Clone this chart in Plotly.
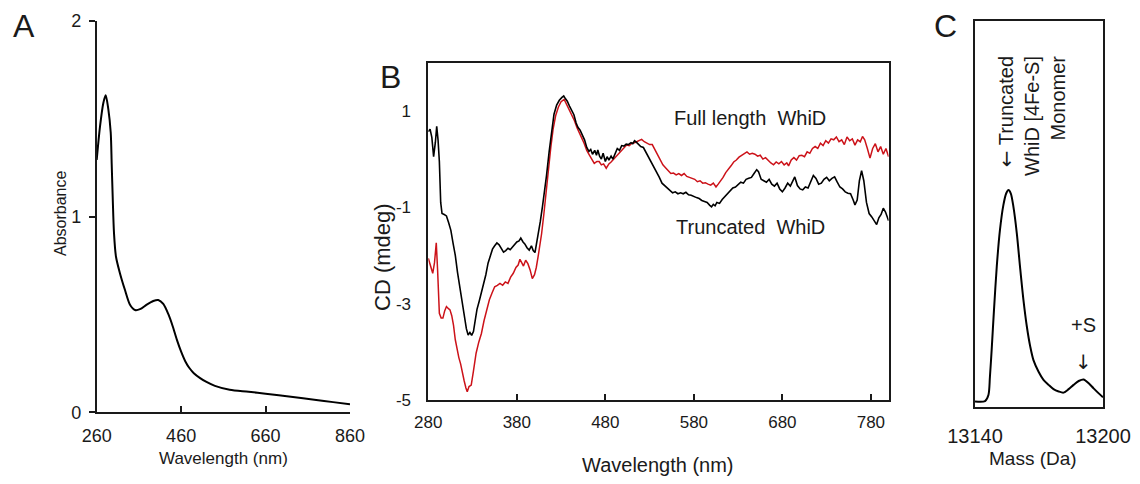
import plotly.graph_objects as go

# ---------------- Panel A : UV-vis absorbance ----------------
a_wavelength = [260, 267.8, 275.6, 281.3, 287.5, 293.2, 295.5, 297.9, 301, 305.7, 315.2, 327,
                338.9, 350.7, 362.6, 378.4, 394, 405.9, 417.7, 430, 440, 450, 460, 470, 480,
                490, 505, 520, 540, 575, 620, 660, 720, 780, 820, 860]
a_absorbance = [1.29, 1.46, 1.58, 1.62, 1.55, 1.43, 1.27, 1.10, 0.915, 0.795, 0.71, 0.625,
                0.55, 0.523, 0.527, 0.55, 0.569, 0.574, 0.554, 0.50, 0.44, 0.37, 0.31, 0.26, 0.225,
                0.20, 0.175, 0.155, 0.135, 0.115, 0.105, 0.095, 0.08, 0.063, 0.052, 0.041]
a_xticks = [260, 460, 660, 860]
a_yticks = [0, 1, 2]

# ---------------- Panel B : CD spectra ----------------
trunc_wl = [280, 282, 284, 286, 288, 289.5, 291, 292.5, 294, 295.5, 298, 300.5, 303, 305.5, 308,
            310.5, 313, 315.5, 318, 320.5, 323, 325, 327, 329, 331, 333, 335, 337.5, 340, 342.5,
            345, 347.5, 350, 352.5, 355, 357.5, 360, 362.5, 365, 367.5, 370, 372.5, 375, 377.5,
            380, 382.5, 384.5, 387, 389, 391.5, 394, 396.5, 398.5, 400.5, 402, 404, 406.5, 409,
            411, 413.5, 416.5, 419, 422, 425, 428, 431, 433, 435, 437, 439.5, 442, 444.5, 447,
            449, 451.5, 454, 456.5, 459, 461.5, 463.5, 465.5, 468, 470, 471.5, 473.5, 475.5,
            477.5, 480, 482, 484, 486.5, 488.5, 491, 493.5, 496, 498.5, 501, 503.5, 506, 509,
            511, 513, 515, 517.5, 520, 523, 526, 529, 532, 535, 538, 541, 544, 547, 550, 553,
            556, 559, 562, 565, 568, 571, 574, 577, 580, 583, 586, 589, 592, 595, 598, 600,
            602, 604, 606, 609, 612, 615, 618, 621, 624, 627, 630, 633, 636, 639, 642, 645,
            648, 651, 653, 656, 659, 662, 665, 668, 671, 674, 677, 680, 683, 686, 689, 692,
            694, 697, 700, 703, 706, 709, 712, 715, 718, 721, 724, 727, 730, 733, 736, 739,
            742, 745, 748, 751, 754, 757, 760, 762, 764.5, 767, 769.5, 772, 775, 778, 781,
            784, 786.5, 789, 791.5, 794, 796.5, 800]
trunc_cd = [0.57, 0.62, 0.45, 0.05, 0.35, 0.68, 0.40, -0.05, -0.9, -1.13, -1.15, -1.18, -1.32,
            -1.48, -1.75, -2.0, -2.35, -2.65, -2.95, -3.28, -3.52, -3.65, -3.60, -3.66, -3.58,
            -3.35, -3.12, -2.95, -2.78, -2.6, -2.4, -2.16, -2.0, -1.87, -1.8, -1.74, -1.78,
            -1.86, -1.93, -1.9, -1.85, -1.88, -1.83, -1.76, -1.72, -1.70, -1.64, -1.72, -1.76,
            -1.84, -1.89, -1.80, -1.90, -1.94, -1.80, -1.55, -1.30, -0.98, -0.72, -0.35, 0.15,
            0.55, 0.93, 1.12, 1.22, 1.28, 1.31, 1.25, 1.20, 1.10, 1.00, 0.92, 0.75, 0.66, 0.60,
            0.50, 0.40, 0.24, 0.16, 0.20, 0.10, 0.18, 0.08, 0.19, 0.06, 0.0, 0.12, -0.05, 0.05,
            -0.02, 0.06, 0.0, 0.12, 0.22, 0.18, 0.28, 0.27, 0.31, 0.30, 0.34, 0.32, 0.38, 0.35,
            0.30, 0.26, 0.24, 0.14, 0.05, -0.05, -0.18, -0.28, -0.38, -0.50, -0.55, -0.62,
            -0.66, -0.70, -0.68, -0.72, -0.70, -0.72, -0.69, -0.74, -0.75, -0.78, -0.80, -0.82,
            -0.86, -0.88, -0.90, -0.96, -0.99, -0.94, -0.97, -0.90, -0.92, -0.84, -0.78, -0.70,
            -0.66, -0.60, -0.58, -0.52, -0.48, -0.50, -0.42, -0.40, -0.38, -0.30, -0.22, -0.26,
            -0.42, -0.45, -0.48, -0.42, -0.52, -0.56, -0.50, -0.62, -0.68, -0.60, -0.50, -0.56,
            -0.44, -0.37, -0.55, -0.62, -0.64, -0.58, -0.60, -0.45, -0.34, -0.40, -0.52, -0.50,
            -0.42, -0.38, -0.45, -0.40, -0.37, -0.48, -0.58, -0.62, -0.68, -0.71, -0.72, -0.85,
            -0.95, -0.85, -0.45, -0.24, -0.45, -0.90, -1.13, -1.20, -1.30, -1.36, -1.22, -1.15,
            -1.02, -1.10, -1.28]

full_wl = [280, 282, 285, 287, 289, 290.5, 292.5, 294.5, 296.5, 298.5, 300.5, 302.5, 304.5,
           306.5, 308.5, 310.5, 312.5, 314.5, 316.5, 318.5, 320.5, 322.5, 324, 326, 328.5, 331,
           334, 337, 340, 343, 346, 349, 352, 355, 358, 361, 364, 367, 370, 373, 376, 379,
           381.5, 383.5, 385.5, 387.5, 390, 392.5, 395, 397.5, 400, 402, 404, 406, 408, 410.5,
           412.8, 415.5, 418.5, 421, 424, 427, 430, 433.5, 436, 439, 442, 445, 448, 450.5, 453,
           456, 459, 462, 464.5, 467.5, 470.5, 473, 475.5, 478, 481, 484, 486.5, 488.5, 491,
           493.5, 496, 499, 501.5, 504, 507, 510, 513, 516, 519, 521, 524, 527, 530, 533, 536,
           539, 542, 545, 548, 551, 554, 557, 560, 563, 566, 569, 572, 575, 578, 581, 584, 587,
           590, 593, 596, 599, 602, 605, 607.5, 610, 613, 616, 619, 622, 625, 628, 631, 634,
           637, 640, 643, 646, 649, 652, 655, 658, 661, 664, 667, 670, 673, 676, 679, 682, 685,
           687, 690, 693, 696, 699, 702, 705, 708, 711, 714, 717, 720, 723, 726, 729, 732, 735,
           738, 741, 744, 747, 750, 753, 756, 759, 762, 765, 768, 770.5, 773, 776, 779, 782,
           785, 788, 791, 794, 797, 800]
full_cd = [-2.06, -2.2, -2.37, -2.15, -1.74, -2.3, -3.2, -3.3, -3.30, -3.15, -3.06, -3.1, -3.13,
           -3.25, -3.45, -3.75, -3.95, -4.12, -4.25, -4.45, -4.6, -4.75, -4.83, -4.72, -4.69,
           -4.4, -4.03, -3.8, -3.62, -3.35, -3.12, -2.92, -2.78, -2.65, -2.62, -2.58, -2.62,
           -2.55, -2.58, -2.45, -2.37, -2.25, -2.20, -2.08, -2.15, -2.22, -2.10, -2.17, -2.30,
           -2.48, -2.40, -2.25, -2.03, -1.80, -1.55, -1.15, -0.71, -0.25, 0.26, 0.62, 0.91, 1.08,
           1.19, 1.24, 1.15, 1.05, 0.93, 0.80, 0.65, 0.53, 0.45, 0.33, 0.18, 0.08, 0.0, -0.09,
           -0.05, -0.05, -0.12, -0.10, -0.19, -0.10, -0.06, -0.02, 0.05, 0.10, 0.15, 0.20, 0.26,
           0.29, 0.28, 0.33, 0.34, 0.36, 0.38, 0.41, 0.36, 0.33, 0.30, 0.30, 0.20, 0.08, -0.02,
           -0.12, -0.18, -0.24, -0.30, -0.29, -0.33, -0.30, -0.34, -0.30, -0.36, -0.38, -0.40,
           -0.42, -0.47, -0.45, -0.50, -0.49, -0.52, -0.54, -0.50, -0.58, -0.52, -0.46, -0.38,
           -0.28, -0.22, -0.14, -0.06, -0.02, 0.04, 0.08, 0.12, 0.15, 0.10, 0.12, 0.10, 0.06,
           0.08, 0.0, 0.03, -0.03, -0.08, -0.12, -0.06, -0.10, -0.05, -0.12, -0.08, -0.14,
           -0.02, 0.03, -0.02, 0.07, 0.08, 0.05, 0.15, 0.12, 0.22, 0.26, 0.22, 0.33, 0.28, 0.38,
           0.33, 0.42, 0.40, 0.46, 0.36, 0.40, 0.30, 0.46, 0.38, 0.42, 0.29, 0.40, 0.36, 0.47,
           0.40, 0.22, 0.02, 0.22, 0.32, 0.15, 0.26, 0.10, 0.22, 0.05]
b_xticks = [280, 380, 480, 580, 680, 780]
b_yticks = [-5, -3, -1, 1]
b_ytick_labels = ["-5", "-3", "-1", "1"]

# ---------------- Panel C : mass spectrum ----------------
c_mass = [13140, 13144.7, 13146.3, 13147, 13147.8, 13148.9, 13150.2, 13151.7, 13153.3, 13154.6,
          13155.7, 13156.8, 13158, 13159.6, 13161.1, 13162.7, 13164.3, 13165.9, 13167.4,
          13169.8, 13172.1, 13174.5, 13176.8, 13179.2, 13181.5, 13183.9, 13186.2, 13188.6,
          13190.9, 13193.3, 13195.6, 13198, 13200]
c_intensity = [0.015, 0.016, 0.032, 0.079, 0.148, 0.252, 0.364, 0.459, 0.523, 0.553, 0.562,
               0.553, 0.519, 0.45, 0.364, 0.278, 0.209, 0.157, 0.122, 0.092, 0.071, 0.058,
               0.047, 0.041, 0.038, 0.047, 0.058, 0.068, 0.072, 0.062, 0.049, 0.036, 0.026]
c_xticks = [13140, 13200]
c_xtick_labels = ["13140", "13200"]

W, H = 1140, 484
OFF = 8  # the page body margin shifts the figure by 8 px
FONT = "Arial, Liberation Sans, Helvetica, sans-serif"
ARROWFONT = "DejaVu Sans"
AX = "#1a1a1a"
TXT = "#1a1a1a"


def px(x):
    return (x - OFF) / W


def py(y):
    return 1 - (y - OFF) / H


fig = go.Figure()
fig.add_trace(go.Scatter(x=a_wavelength, y=a_absorbance, mode="lines",
                         line=dict(color="black", width=2, shape="spline", smoothing=0.8),
                         xaxis="x", yaxis="y", showlegend=False))
fig.add_trace(go.Scatter(x=full_wl, y=full_cd, mode="lines", name="Full length WhiD",
                         line=dict(color="#cc1219", width=1.5),
                         xaxis="x2", yaxis="y2", showlegend=False))
fig.add_trace(go.Scatter(x=trunc_wl, y=trunc_cd, mode="lines", name="Truncated WhiD",
                         line=dict(color="black", width=1.6),
                         xaxis="x2", yaxis="y2", showlegend=False))
fig.add_trace(go.Scatter(x=c_mass, y=c_intensity, mode="lines",
                         line=dict(color="black", width=2, shape="spline", smoothing=0.8),
                         xaxis="x3", yaxis="y3", showlegend=False))

common = dict(showgrid=False, zeroline=False, automargin=False, linecolor=AX, linewidth=1.8,
              showline=True, tickcolor=AX, tickwidth=1.5)

fig.update_layout(
    template="none",
    width=W, height=H,
    margin=dict(l=0, r=0, t=0, b=0, pad=0, autoexpand=False),
    paper_bgcolor="white", plot_bgcolor="white",
    font=dict(family=FONT, color=TXT),
    showlegend=False,
    xaxis=dict(domain=[px(96.7), px(350)], range=[260, 860], tickvals=a_xticks,
               ticks="inside", ticklen=6, mirror=False,
               tickfont=dict(family=FONT, size=18, color=TXT), ticklabelstandoff=6, anchor="y", **common),
    yaxis=dict(domain=[py(412.3), py(21)], range=[0, 2], tickvals=a_yticks,
               ticks="outside", ticklen=6, mirror=False,
               tickfont=dict(family=FONT, size=18, color=TXT), ticklabelstandoff=4, anchor="x", **common),
    xaxis2=dict(domain=[px(428.3), px(888.6)], range=[280, 800], tickvals=b_xticks,
                ticks="inside", ticklen=6, mirror=True,
                tickfont=dict(family=FONT, size=17, color=TXT), ticklabelstandoff=6, anchor="y2", **common),
    yaxis2=dict(domain=[py(400), py(62.7)], range=[-5, 2], tickvals=b_yticks, ticktext=b_ytick_labels,
                ticks="", mirror=True,
                tickfont=dict(family=FONT, size=17, color=TXT), ticklabelstandoff=12, anchor="x2", **common),
    xaxis3=dict(domain=[px(975), px(1103)], range=[13140, 13200], tickvals=c_xticks, ticktext=c_xtick_labels,
                ticks="", mirror=True,
                tickfont=dict(family=FONT, size=20, color=TXT), ticklabelstandoff=10, anchor="y3", **common),
    yaxis3=dict(domain=[py(407.3), py(20.7)], range=[0, 1], showticklabels=False,
                ticks="", mirror=True, anchor="x3", **common),
)

arrow_left = '<span style="font-family:DejaVu Sans">\u2190</span>'
annotations = [
    # panel letters
    dict(text="A", x=px(23.5), y=py(26), font=dict(size=32)),
    dict(text="B", x=px(390), y=py(77), font=dict(size=32)),
    dict(text="C", x=px(945), y=py(26), font=dict(size=32)),
    # axis titles
    dict(text="Wavelength (nm)", x=px(223), y=py(458), font=dict(size=17)),
    dict(text="Absorbance", x=px(60), y=py(214), font=dict(size=16), textangle=-90),
    dict(text="Wavelength (nm)", x=px(658), y=py(465), font=dict(size=20)),
    dict(text="CD (mdeg)", x=px(382), y=py(257), font=dict(size=22), textangle=-90),
    dict(text="Mass (Da)", x=px(1033), y=py(458), font=dict(size=19)),
    # series labels
    dict(text="Full length \u00a0WhiD", x=px(750), y=py(118), font=dict(size=20)),
    dict(text="Truncated \u00a0WhiD", x=px(750), y=py(227), font=dict(size=20)),
    # peak labels panel C
    dict(text=arrow_left + " Truncated<br>WhiD [4Fe-S]<br>Monomer", x=px(1031), y=py(116),
         textangle=-90, align="right", font=dict(size=20)),
    dict(text="+S", x=px(1083), y=py(325), font=dict(size=20)),
    dict(text="\u2193", x=px(1083), y=py(362), font=dict(size=20, family=ARROWFONT)),
]
for a in annotations:
    a.update(xref="paper", yref="paper", showarrow=False, xanchor="center", yanchor="middle")
    f = a["font"]
    f.setdefault("family", FONT)
    f.update(color=TXT)
fig.update_layout(annotations=annotations)

fig.write_html("out.html")
